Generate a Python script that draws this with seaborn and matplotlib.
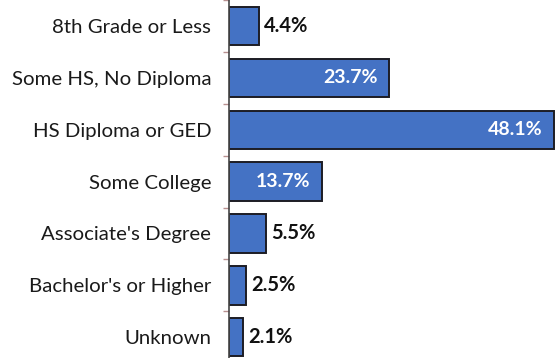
import matplotlib
matplotlib.use("Agg")
import matplotlib.pyplot as plt
import seaborn as sns
import pandas as pd
import numpy as np

categories = ["8th Grade or Less", "Some HS, No Diploma", "HS Diploma or GED",
              "Some College", "Associate's Degree", "Bachelor's or Higher", "Unknown"]
shares = [4.4, 23.7, 48.1, 13.7, 5.5, 2.5, 2.1]
value_labels = ["4.4%", "23.7%", "48.1%", "13.7%", "5.5%", "2.5%", "2.1%"]

df = pd.DataFrame({"category": categories, "share": shares})

sns.set_theme(style="white")
plt.rcParams["font.family"] = ["Lato", "DejaVu Sans"]

fig = plt.figure(figsize=(5.55, 3.58), dpi=100)
ax = fig.add_axes([0.413, 0.0, 0.587, 1.0])

sns.barplot(data=df, x="share", y="category", orient="h", color="#4472C4",
            saturation=1, width=0.74, edgecolor="#1c1c24", linewidth=1.4, ax=ax)

ax.set_xlim(0, 48.25)
ax.set_ylim(6.4, -0.48)
ax.set_xlabel("")
ax.set_ylabel("")
ax.set_xticks([])

for s in ["top", "right", "bottom"]:
    ax.spines[s].set_visible(False)
ax.spines["left"].set_color("#444444")
ax.spines["left"].set_linewidth(1.2)

ax.tick_params(axis="y", which="major", left=False, length=0, pad=13,
               labelsize=14.7, labelcolor="#1a1a1a")
ax.set_yticks(np.arange(-0.5, 6.5, 1.0), minor=True)
ax.tick_params(axis="y", which="minor", left=True, length=4, color="#b89090",
               width=1)

for i, (v, lab) in enumerate(zip(shares, value_labels)):
    if v > 10:
        ax.text(v - 1.7, i, lab, ha="right", va="center", color="white",
                fontsize=14, fontweight="bold")
    else:
        ax.text(v + 0.75, i, lab, ha="left", va="center", color="#111111",
                fontsize=14.5, fontweight="bold")

fig.savefig("out.png", dpi=100, facecolor="white")
